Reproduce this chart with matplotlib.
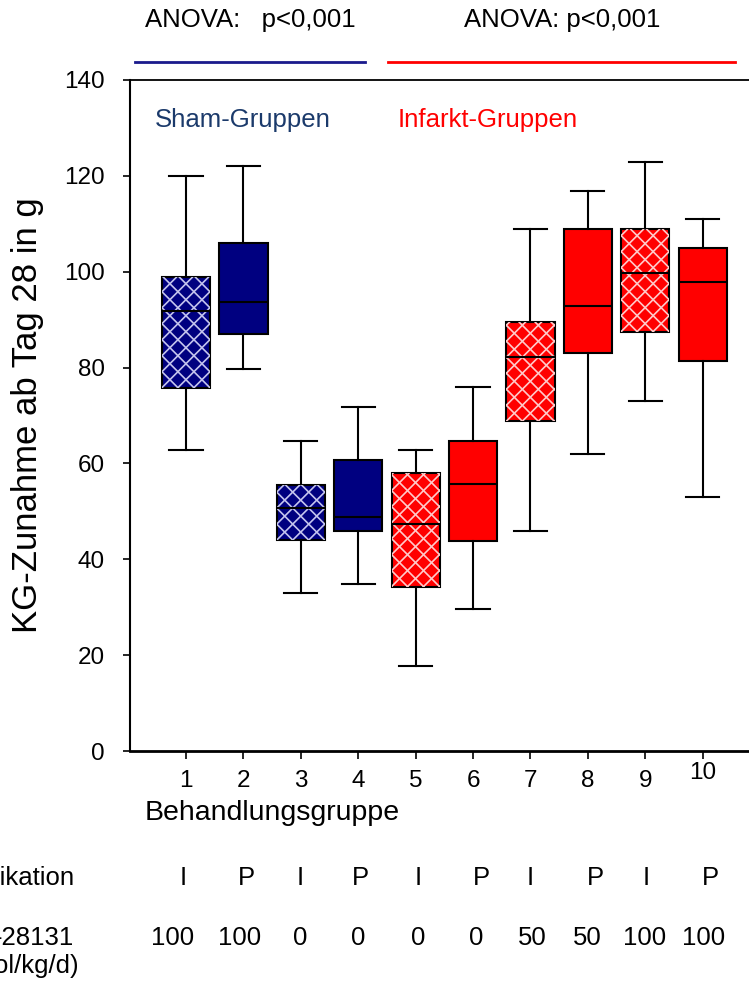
import matplotlib
matplotlib.use("Agg")
import matplotlib.pyplot as plt
import matplotlib.transforms as mtransforms
from matplotlib.collections import LineCollection

plt.rcParams['font.family'] = ['Liberation Sans', 'DejaVu Sans']

# ---- data ----
groups = ['1', '2', '3', '4', '5', '6', '7', '8', '9', '10']
q1 = [75.8, 87.0, 44.0, 46.0, 34.3, 43.9, 68.8, 83.0, 87.5, 81.3]
med = [91.8, 93.7, 50.8, 48.8, 47.4, 55.8, 82.3, 92.9, 99.7, 97.8]
q3 = [98.9, 106.0, 55.4, 60.8, 57.9, 64.7, 89.5, 108.9, 108.9, 104.9]
whis_lo = [62.8, 79.8, 32.9, 34.9, 17.8, 29.7, 46.0, 62.0, 73.1, 53.0]
whis_hi = [120.0, 122.0, 64.7, 71.8, 62.8, 75.9, 108.9, 116.9, 122.9, 110.9]
applikation = ['I', 'P', 'I', 'P', 'I', 'P', 'I', 'P', 'I', 'P']
dose = ['100', '100', '0', '0', '0', '0', '50', '50', '100', '100']
sham = [True, True, True, True, False, False, False, False, False, False]

NAVY = "#000080"
RED = "#FF0000"
SHAM_TXT = "#1B3A6B"
BOX_W = 0.84

fig = plt.figure(figsize=(7.49, 9.85), dpi=100)
ax = fig.add_axes([130 / 749, 1 - 751 / 985, 626 / 749, 671 / 985])
ax.set_xlim(0.024, 10.93)
ax.set_ylim(0, 140)

positions = list(range(1, len(groups) + 1))
stats = []
for i in range(len(groups)):
    stats.append(dict(med=med[i], q1=q1[i], q3=q3[i],
                      whislo=whis_lo[i], whishi=whis_hi[i], fliers=[]))

bp = ax.bxp(stats, positions=positions, widths=BOX_W, capwidths=0.58,
            patch_artist=True, showfliers=False, manage_ticks=False,
            boxprops=dict(edgecolor='black', linewidth=1.5),
            medianprops=dict(color='black', linewidth=1.5, zorder=2.3),
            whiskerprops=dict(color='black', linewidth=1.5),
            capprops=dict(color='black', linewidth=1.5))

# pixels per data unit, used to draw a 45-degree lattice (~16 px pitch)
p0 = ax.transData.transform((0, 0))
p1 = ax.transData.transform((1, 1))
sx, sy = p1[0] - p0[0], p1[1] - p0[1]
pitch = 16.0
L = 300.0

for i, box in enumerate(bp['boxes']):
    box.set_facecolor(NAVY if sham[i] else RED)
    if applikation[i] != 'I':
        continue
    hcol = '#C4C4EE' if sham[i] else '#FFCACA'
    xl = positions[i] - BOX_W / 2
    segs = []
    for k in range(-15, 16):
        xa = xl + k * pitch / sx
        ya = q1[i]
        segs.append([(xa - L / sx, ya - L / sy), (xa + L / sx, ya + L / sy)])
        segs.append([(xa - L / sx, ya + L / sy), (xa + L / sx, ya - L / sy)])
    lc = LineCollection(segs, colors=hcol, linewidths=1.2, zorder=2.1)
    ax.add_collection(lc)
    lc.set_clip_path(box)

ax.set_yticks(range(0, 141, 20))
ax.set_xticks(positions)
ax.set_xticklabels(groups)
ax.spines['right'].set_visible(False)
ax.spines['left'].set_linewidth(1.5)
ax.spines['bottom'].set_linewidth(2)
ax.spines['top'].set_linewidth(1.3)
ax.tick_params(axis='y', direction='out', length=5, width=1.2, pad=13, labelsize=17.5)
ax.tick_params(axis='x', direction='out', length=6, width=1.2, pad=8, labelsize=17.5)
# the "10" sits a little higher than the others
ax.xaxis.get_major_ticks()[9].label1.set_y(0.012)

ax.set_ylabel("KG-Zunahme ab Tag 28 in g", fontsize=25)
ax.yaxis.set_label_coords(-0.137, 0.5)

# headers
ax.text(2.115, 152.5, "ANOVA:   p<0,001", ha='center', va='center', fontsize=18.5, clip_on=False)
ax.text(7.55, 152.5, "ANOVA: p<0,001", ha='center', va='center', fontsize=18.5, clip_on=False)
ax.plot([0.11, 4.12], [143.75, 143.75], color='#1a1a8c', lw=2, clip_on=False)
ax.plot([4.52, 10.56], [143.75, 143.75], color=RED, lw=2, clip_on=False)
ax.text(1.99, 131.6, "Sham-Gruppen", ha='center', va='center', fontsize=18.5, color=SHAM_TXT)
ax.text(6.25, 131.6, "Infarkt-Gruppen", ha='center', va='center', fontsize=18.5, color=RED)

# x axis title
fig.text(145 / 749, 1 - 813 / 985, "Behandlungsgruppe", ha='left', va='center', fontsize=20.5)

# bottom rows
trans = mtransforms.blended_transform_factory(ax.transData, fig.transFigure)
app_x = [0.95, 2.05, 2.99, 4.03, 5.04, 6.14, 6.99, 8.14, 9.01, 10.13]
dose_x = [0.76, 1.94, 2.99, 4.0, 5.04, 6.05, 7.03, 7.99, 8.98, 10.02]
for xx, s in zip(app_x, applikation):
    ax.text(xx, 1 - 878 / 985, s, transform=trans, ha='center', va='center', fontsize=18.5)
for xx, s in zip(dose_x, dose):
    ax.text(xx, 1 - 938 / 985, s, transform=trans, ha='center', va='center', fontsize=18.5)

fig.text(75 / 749, 1 - 878 / 985, "Applikation", ha='right', va='center', fontsize=18.5)
fig.text(74 / 749, 1 - 938 / 985, "-28131", ha='right', va='center', fontsize=18.5)
fig.text(79 / 749, 1 - 966 / 985, "(µmol/kg/d)", ha='right', va='center', fontsize=18.5)

fig.savefig("out.png", dpi=100)
